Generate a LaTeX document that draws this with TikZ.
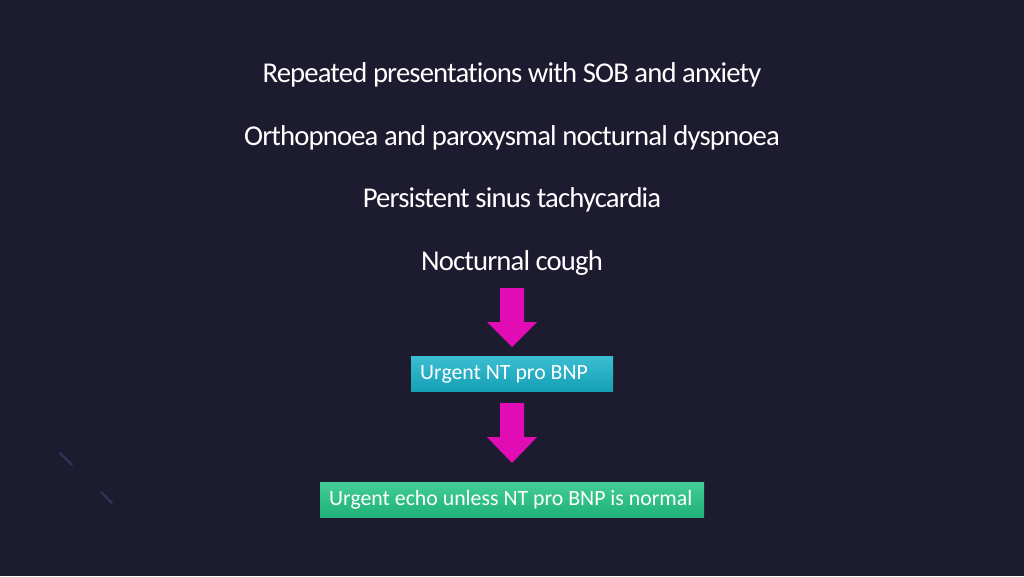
\documentclass[tikz,border=0pt]{standalone}
\usepackage{fontspec}
\setmainfont{Carlito}
\newfontfamily\titlefont[LetterSpace=-3,Ligatures=NoCommon]{Carlito}
\definecolor{bg}{HTML}{1D1B2F}
\definecolor{mag}{HTML}{E20CB4}
\definecolor{cyanbox}{HTML}{18B2CA}
\definecolor{greenbox}{HTML}{22C584}
\definecolor{faint}{HTML}{4C4A86}
\begin{document}
\begin{tikzpicture}[x=1pt,y=-1pt,
  line/.style={text=white,font=\titlefont\fontsize{28.7}{32}\selectfont,inner sep=0pt,anchor=center},
  boxtext/.style={text=white,font=\fontsize{21.8}{26}\selectfont,inner sep=0pt,anchor=west},
  bigarrow/.style={fill=mag,draw=none}]
\fill[bg] (0,0) rectangle (1024,576);
\useasboundingbox (0,0) rectangle (1024,576);
% faint decoration
\draw[faint,line width=2pt,line cap=round,opacity=0.55] (60,453) -- (72,465);
\draw[faint,line width=2pt,line cap=round,opacity=0.55] (101,492) -- (112,503);
% text lines
\node[line] (l1) at (512,75) {Repeated presentations with SOB and anxiety};
\node[line] (l2) at (512,138) {Orthopnoea and paroxysmal nocturnal dyspnoea};
\node[line] (l3) at (512,200) {Persistent sinus tachycardia};
\node[line] (l4) at (512,263) {Nocturnal cough};
% boxes
\shade[top color=cyanbox!85!white,bottom color=cyanbox!90!black] (411,356) rectangle (613,391);
\node[boxtext] (b1) at (420,374) {Urgent NT pro BNP};
\shade[top color=greenbox!85!white,bottom color=greenbox!90!black] (320,482) rectangle (704,517);
\node[boxtext] (b2) at (329,500) {Urgent echo unless NT pro BNP is normal};
% arrows
\fill[bigarrow] (500,288) -- (524,288) -- (524,322) -- (537,322) -- (512,347) -- (487,322) -- (500,322) -- cycle;
\fill[bigarrow] (500,403) -- (524,403) -- (524,437) -- (537,437) -- (512,463) -- (487,437) -- (500,437) -- cycle;
\end{tikzpicture}
\end{document}
